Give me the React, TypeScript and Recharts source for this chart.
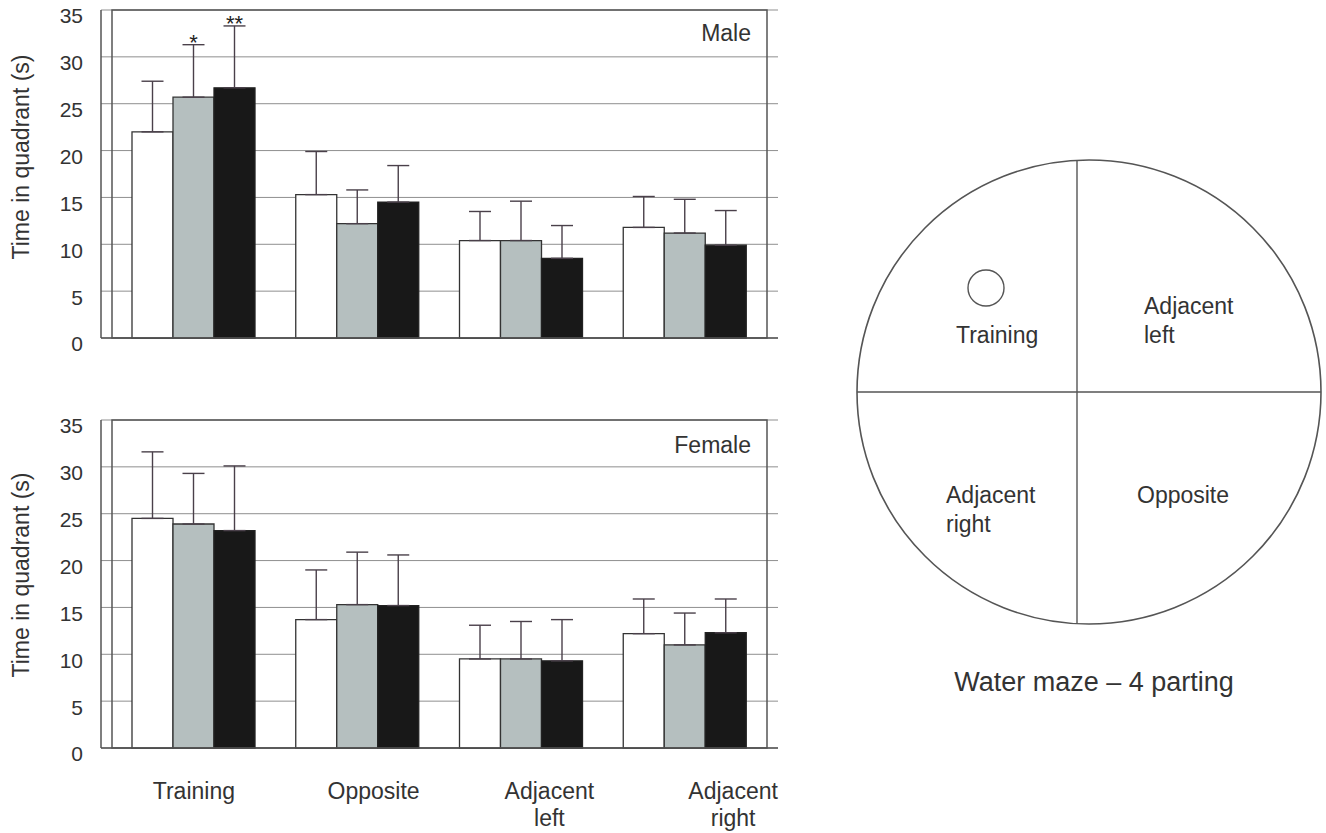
import React from 'react';
import { BarChart, Bar, XAxis, YAxis, CartesianGrid, ErrorBar, LabelList, ReferenceArea } from 'recharts';

const categories = ['Training', 'Opposite', 'Adjacent left', 'Adjacent right'];
const categoryLines = [['Training'], ['Opposite'], ['Adjacent', 'left'], ['Adjacent', 'right']];
const yTicks = [0, 5, 10, 15, 20, 25, 30, 35];

// Male panel
const maleWhite = [22.0, 15.3, 10.4, 11.8];
const maleWhiteErr = [5.4, 4.6, 3.1, 3.3];
const maleGray = [25.7, 12.2, 10.4, 11.2];
const maleGrayErr = [5.6, 3.6, 4.2, 3.6];
const maleBlack = [26.7, 14.5, 8.5, 9.9];
const maleBlackErr = [6.6, 3.9, 3.5, 3.7];
const maleGrayMarks = ['*', '', '', ''];
const maleBlackMarks = ['**', '', '', ''];

// Female panel
const femaleWhite = [24.5, 13.7, 9.5, 12.2];
const femaleWhiteErr = [7.1, 5.3, 3.6, 3.7];
const femaleGray = [23.9, 15.3, 9.5, 11.0];
const femaleGrayErr = [5.4, 5.6, 4.0, 3.4];
const femaleBlack = [23.2, 15.2, 9.3, 12.3];
const femaleBlackErr = [6.9, 5.4, 4.4, 3.6];
const femaleGrayMarks = ['', '', '', ''];
const femaleBlackMarks = ['', '', '', ''];

const FONT = "'Liberation Sans', Arial, Helvetica, sans-serif";
const TEXT = '#333';
const LINE = '#555';
const labelShift = [0, 16, 28, 48];

type Rows = Array<Record<string, any>>;

function buildRows(w: number[], we: number[], g: number[], ge: number[], b: number[], be: number[], gm: string[], bm: string[]): Rows {
  return categories.map((name, i) => ({
    name,
    white: w[i],
    whiteErr: [0, we[i]],
    gray: g[i],
    grayErr: [0, ge[i]],
    black: b[i],
    blackErr: [0, be[i]],
    grayMark: gm[i],
    blackMark: bm[i],
  }));
}

const maleRows = buildRows(maleWhite, maleWhiteErr, maleGray, maleGrayErr, maleBlack, maleBlackErr, maleGrayMarks, maleBlackMarks);
const femaleRows = buildRows(femaleWhite, femaleWhiteErr, femaleGray, femaleGrayErr, femaleBlack, femaleBlackErr, femaleGrayMarks, femaleBlackMarks);

const makeStar = (vals: number[], errs: number[]) => (props: any) => {
  const vb = props.viewBox && props.viewBox.height !== undefined ? props.viewBox : props;
  const { x, y, width, height } = vb;
  const index = props.index;
  const value = props.value;
  if (!value || index === undefined) return null;
  const px = height / vals[index];
  const top = y - errs[index] * px;
  return (
    <text x={x + width / 2} y={top + 5} textAnchor="middle" fontSize={22} fill="#222" fontFamily={FONT}>
      {value}
    </text>
  );
};

const CategoryTick = (props: any) => {
  const { x, y, payload } = props;
  const i = payload && payload.index !== undefined ? payload.index : props.index;
  const lines = categoryLines[i] || [String(payload.value)];
  const cx = x + labelShift[i];
  return (
    <text x={cx} y={y} textAnchor="middle" fontSize={23} fill={TEXT} fontFamily={FONT}>
      {lines.map((l, k) => (
        <tspan key={k} x={cx} dy={k === 0 ? 43 : 27}>
          {l}
        </tspan>
      ))}
    </text>
  );
};

function Panel({ rows, showCategories, height, vals, errs }: { rows: Rows; showCategories: boolean; height: number; vals: number[][]; errs: number[][] }) {
  return (
    <BarChart
      width={800}
      height={height}
      data={rows}
      margin={{ top: 10, right: 22, bottom: showCategories ? 5 : 21, left: 0 }}
      barCategoryGap={20}
      barGap={0}
    >
      <CartesianGrid horizontal vertical={false} stroke="#8f8f8f" strokeWidth={1} />
      <XAxis
        dataKey="name"
        padding={{ left: 11, right: 11 }}
        axisLine={{ stroke: LINE, strokeWidth: 1.5 }}
        tickLine={false}
        tick={showCategories ? <CategoryTick /> : false}
        height={showCategories ? 80 : 1}
        interval={0}
      />
      <YAxis
        width={101}
        domain={[0, 35]}
        ticks={yTicks}
        interval={0}
        tickLine={false}
        tickMargin={12}
        axisLine={{ stroke: LINE, strokeWidth: 1.5 }}
        tick={{ fontSize: 21, fill: TEXT, fontFamily: FONT, dy: 6 }}
      />
      <Bar dataKey="white" fill="#ffffff" stroke="#333" strokeWidth={1.3} isAnimationActive={false}>
        <ErrorBar dataKey="whiteErr" width={11} stroke="#4a404a" strokeWidth={1.4} />
      </Bar>
      <Bar dataKey="gray" fill="#b5bfbf" stroke="#333" strokeWidth={1.3} isAnimationActive={false}>
        <ErrorBar dataKey="grayErr" width={11} stroke="#4a404a" strokeWidth={1.4} />
        <LabelList dataKey="grayMark" content={makeStar(vals[1], errs[1])} />
      </Bar>
      <Bar dataKey="black" fill="#181818" stroke="#222" strokeWidth={1.3} isAnimationActive={false}>
        <ErrorBar dataKey="blackErr" width={11} stroke="#4a404a" strokeWidth={1.4} />
        <LabelList dataKey="blackMark" content={makeStar(vals[2], errs[2])} />
      </Bar>
      <ReferenceArea y1={0} y2={35} fill="none" stroke={LINE} strokeWidth={1.5} ifOverflow="visible" />
    </BarChart>
  );
}

export default function App() {
  return (
    <div style={{ position: 'absolute', left: 0, top: 0, width: 1326, height: 833, background: '#fff', fontFamily: FONT, overflow: 'hidden' }}>
      <div style={{ position: 'absolute', left: 0, top: 0 }}>
        <Panel
          rows={maleRows}
          showCategories={false}
          height={360}
          vals={[maleWhite, maleGray, maleBlack]}
          errs={[maleWhiteErr, maleGrayErr, maleBlackErr]}
        />
      </div>
      <div style={{ position: 'absolute', left: 0, top: 410 }}>
        <Panel
          rows={femaleRows}
          showCategories={true}
          height={423}
          vals={[femaleWhite, femaleGray, femaleBlack]}
          errs={[femaleWhiteErr, femaleGrayErr, femaleBlackErr]}
        />
      </div>
      <svg width={1326} height={833} style={{ position: 'absolute', left: 0, top: 0, pointerEvents: 'none' }} fontFamily={FONT}>
        <text x={29} y={157} transform="rotate(-90 29 157)" textAnchor="middle" fontSize={23} fill={TEXT}>
          Time in quadrant (s)
        </text>
        <text x={29} y={575} transform="rotate(-90 29 575)" textAnchor="middle" fontSize={23} fill={TEXT}>
          Time in quadrant (s)
        </text>
        <text x={751} y={41} textAnchor="end" fontSize={23} fill={TEXT}>Male</text>
        <text x={751} y={453} textAnchor="end" fontSize={23} fill={TEXT}>Female</text>

        <circle cx={1089} cy={392} r={232} fill="none" stroke={LINE} strokeWidth={1.6} />
        <line x1={1077} y1={160.3} x2={1077} y2={623.7} stroke={LINE} strokeWidth={1.4} />
        <line x1={857} y1={392} x2={1321} y2={392} stroke={LINE} strokeWidth={1.4} />
        <circle cx={986} cy={288} r={18} fill="none" stroke={LINE} strokeWidth={1.4} />
        <text x={956} y={343} fontSize={23} fill={TEXT}>Training</text>
        <text x={1144} y={314} fontSize={23} fill={TEXT}>Adjacent</text>
        <text x={1144} y={343} fontSize={23} fill={TEXT}>left</text>
        <text x={946} y={503} fontSize={23} fill={TEXT}>Adjacent</text>
        <text x={946} y={532} fontSize={23} fill={TEXT}>right</text>
        <text x={1137} y={503} fontSize={23} fill={TEXT}>Opposite</text>
        <text x={1094} y={691} textAnchor="middle" fontSize={27} fill={TEXT}>Water maze – 4 parting</text>
      </svg>
    </div>
  );
}
